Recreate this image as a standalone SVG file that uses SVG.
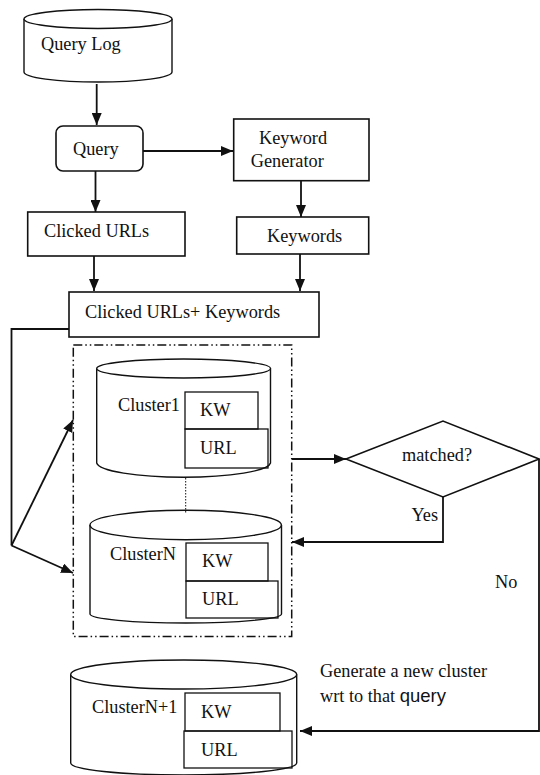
<svg xmlns="http://www.w3.org/2000/svg" width="540" height="775" viewBox="0 0 540 775">
<style>
text{font-family:"Liberation Serif","Times New Roman",serif;font-size:18.3px;fill:#111}
.sh{fill:#fff;stroke:#111;stroke-width:1.6}
.cyl{fill:#fff;stroke:#111;stroke-width:1.4}
.ln{fill:none;stroke:#111;stroke-width:1.8}
.th{fill:none;stroke:#111;stroke-width:1.3}
.ar{fill:none;stroke:#111;stroke-width:1.8;marker-end:url(#ah)}
.sans{font-family:"Liberation Sans",Arial,sans-serif;font-size:18.5px}
</style>
<defs>
<marker id="ah" markerUnits="userSpaceOnUse" markerWidth="12" markerHeight="10" refX="12" refY="5" orient="auto">
<path d="M0,0 L12,5 L0,10 z" fill="#111"/>
</marker>
</defs>
<rect width="540" height="775" fill="#fff"/>

<g id="querylog">
<path class="cyl" d="M24,19 V72 A74,10 0 0 0 172,72 V19"/>
<ellipse class="cyl" cx="98" cy="19" rx="74" ry="9.5"/>
<text x="41" y="50">Query Log</text>
</g>

<g id="query">
<rect class="sh" x="56" y="126" width="87" height="45" rx="7"/>
<text x="73" y="155">Query</text>
</g>

<g id="keywordgen">
<rect class="sh" x="233.7" y="119" width="135.3" height="61.7"/>
<text x="259" y="144">Keyword</text>
<text x="250.7" y="167">Generator</text>
</g>

<g id="clickedurls">
<rect class="sh" x="27.7" y="212" width="157.3" height="44"/>
<text x="44" y="237">Clicked URLs</text>
</g>

<g id="keywords">
<rect class="sh" x="236.7" y="217" width="132" height="37"/>
<text x="267" y="242">Keywords</text>
</g>

<g id="combined">
<rect class="sh" x="69" y="292" width="250" height="45" stroke-width="2"/>
<text x="85" y="318">Clicked URLs+ Keywords</text>
</g>

<g id="clustergroup">
<rect x="73.3" y="345" width="218.4" height="291.5" fill="none" stroke="#111" stroke-width="1.5" stroke-dasharray="9 3 1.5 3 1.5 3"/>
</g>

<g id="cluster1">
<path class="cyl" d="M96.7,368.5 V463 A87,15 0 0 0 270.5,463 V368.5"/>
<ellipse class="cyl" cx="183.6" cy="368.5" rx="86.9" ry="9.5"/>
<text x="118" y="411">Cluster1</text>
<rect class="th" x="185" y="392" width="73" height="37"/>
<text x="200" y="416">KW</text>
<rect class="th" x="185" y="429" width="83" height="39" fill="#fff"/>
<text x="200" y="454">URL</text>
</g>

<g id="clusterN">
<path class="cyl" d="M90,525 V614 A95.7,9 0 0 0 281.5,614 V525"/>
<ellipse class="cyl" cx="185.7" cy="525" rx="95.7" ry="14.7"/>
<text x="110" y="560">ClusterN</text>
<rect class="th" x="186" y="543" width="82" height="38"/>
<text x="202" y="567">KW</text>
<rect class="th" x="186" y="581" width="92" height="37" fill="#fff"/>
<text x="202" y="605">URL</text>
</g>

<g id="matched">
<polygon class="sh" points="346,459 443,421 539,459 443,497" stroke-width="1.5"/>
<text x="402" y="461">matched?</text>
</g>

<g id="clusterN1">
<path class="cyl" d="M70.7,674.5 V763 A113,12 0 0 0 296.7,763 V674.5"/>
<ellipse class="cyl" cx="183.7" cy="674.5" rx="113" ry="14.5"/>
<text x="92" y="713">ClusterN+1</text>
<rect class="th" x="185" y="693" width="95" height="38"/>
<text x="201" y="718">KW</text>
<rect class="th" x="184" y="731" width="108" height="37" fill="#fff"/>
<text x="201" y="756">URL</text>
</g>

<g id="connectors">
<path class="ar" d="M96.7,84 V125"/>
<path class="ar" d="M143,151 H233"/>
<path class="ar" d="M95.5,171 V212"/>
<path class="ar" d="M301,181 V217"/>
<path class="ar" d="M94,256 V291"/>
<path class="ar" d="M300,254 V291"/>
<path class="ln" d="M69,329 H11.5 V545.5" stroke-width="1.5"/>
<path class="ar" d="M11.5,545.5 L73,420"/>
<path class="ar" d="M11.5,545.5 L73,573"/>
<path class="ar" d="M292,459 H346"/>
<path class="ar" d="M443,497 V542 H292"/>
<path class="ar" d="M539,459 V731 H300" stroke-width="1.4"/>
<path d="M185.7,478 V513" fill="none" stroke="#111" stroke-width="1" stroke-dasharray="1.5 1.5"/>
</g>

<g id="labels">
<text x="438" y="521" text-anchor="end">Yes</text>
<text x="495" y="588">No</text>
<text x="320" y="677">Generate a new cluster</text>
<text x="320" y="702">wrt to that <tspan class="sans">query</tspan></text>
</g>
</svg>
